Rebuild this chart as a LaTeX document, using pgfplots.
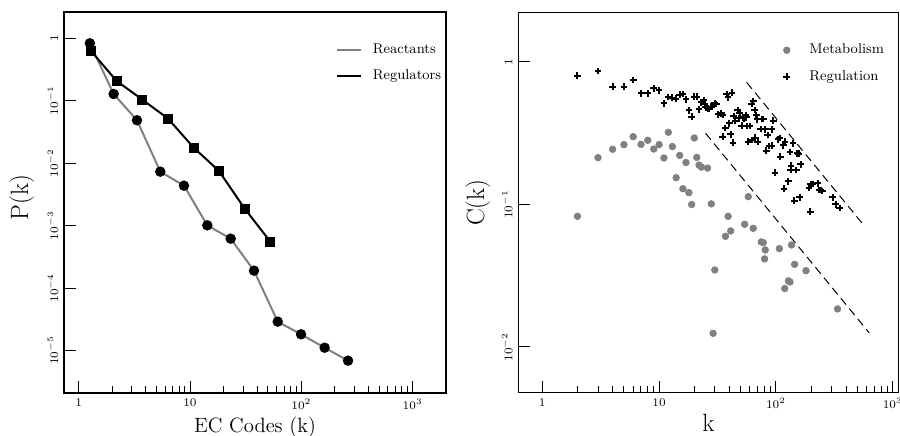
\documentclass[border=0pt]{standalone}
\usepackage{pgfplots}
\pgfplotsset{compat=1.18}
\definecolor{mygray}{RGB}{128,128,128}

\pgfplotsset{
  panel/.style={
    scale only axis,
    axis line style={line width=0.9pt},
    tick style={black, line width=0.6pt},
    tick align=inside,
    xtick pos=bottom, ytick pos=left,
    major tick length=7pt, minor tick length=4pt,
    ticklabel style={font=\fontsize{7}{8}\selectfont},
    yticklabel style={rotate=90, anchor=south},
    ylabel style={font=\fontsize{15}{17}\selectfont},
    xtick={1,10,100,1000},
    xticklabels={$1$,$10$,$10^2$,$10^3$},
    legend cell align=left,
  },
}

\begin{document}
\begin{tikzpicture}

% left: degree distribution
\begin{loglogaxis}[
  panel,
  at={(38.4pt,25.8pt)}, anchor=south west,
  width=229.2pt, height=228.6pt,
  xmin=0.738, xmax=1995, ymin=2.09e-6, ymax=2.63,
  ytick={1,0.1,0.01,0.001,0.0001,0.00001},
  yticklabels={$1$,$10^{-1}$,$10^{-2}$,$10^{-3}$,$10^{-4}$,$10^{-5}$},
  xlabel={EC Codes (k)}, ylabel={P(k)},
  xlabel style={font=\fontsize{12.4}{14}\selectfont, yshift=2pt},
  ylabel style={xshift=3pt, yshift=1pt},
  legend style={draw=none, fill=none, at={(rel axis cs:1.01,0.935)}, anchor=north east,
    font=\fontsize{8.5}{10}\selectfont, row sep=4.5pt},
  legend image code/.code={\draw[#1] (0pt,0pt) -- (14.4pt,0pt); \path (19pt,0pt);},
]
\addlegendimage{mygray, line width=1.2pt}
\addlegendentry{Reactants}
\addlegendimage{black, line width=1.2pt}
\addlegendentry{Regulators}

\addplot[forget plot, mygray, line width=1.2pt, mark=*, mark size=2.5pt,
  mark options={fill=black, draw=black}] coordinates {
  (1.26,0.83) (2.06,0.128) (3.34,0.0486) (5.41,0.00731) (8.83,0.00436)
  (14.3,0.00101) (23.2,0.000618) (37.6,0.000190) (61.4,2.90e-5)
  (99.4,1.82e-5) (162,1.11e-5) (263,6.88e-6)
};
\addplot[forget plot, black, line width=1.2pt, mark=square*, mark size=2.4pt] coordinates {
  (1.29,0.626) (2.19,0.207) (3.73,0.104) (6.34,0.0517) (10.8,0.0177)
  (18.2,0.0075) (31.0,0.00187) (52.7,0.000553)
};
\end{loglogaxis}

% right: clustering coefficient
\begin{loglogaxis}[
  panel,
  at={(311pt,26pt)}, anchor=south west,
  width=228pt, height=228.2pt,
  xmin=0.624, xmax=1117, ymin=0.00478, ymax=2.23,
  ytick={0.01,0.1,1},
  yticklabels={$10^{-2}$,$10^{-1}$,$1$},
  yminorticks=false,
  xlabel={k}, ylabel={C(k)},
  xlabel style={font=\fontsize{15}{17}\selectfont, yshift=4pt},
  legend style={draw=none, fill=none, at={(rel axis cs:0.985,0.935)}, anchor=north east,
    font=\fontsize{8.5}{10}\selectfont, row sep=4.5pt},
  legend image code/.code={\draw[#1] plot coordinates {(7pt,0pt)}; \path (18pt,0pt);},
]
\addplot[only marks, mark=*, mark size=2pt, mygray, mark options={draw=mygray, fill=mygray}] coordinates {
  (2,0.0826) (3,0.213) (4,0.244) (5,0.263) (6,0.299) (7,0.264) (8,0.282)
  (9,0.245) (10,0.263) (11,0.212) (12,0.321) (13,0.255) (14,0.154)
  (15,0.221) (16,0.129) (17,0.197) (18,0.121) (19,0.100) (20,0.293)
  (21,0.214) (22,0.189) (23,0.183) (26,0.180) (28,0.101) (29,0.01247)
  (30,0.0347) (37,0.0598) (39,0.0826) (41,0.0652) (54,0.0726) (58,0.1135)
  (64,0.068) (75,0.0546) (78,0.054) (81,0.048) (80,0.0415) (107,0.049)
  (119,0.0257) (128,0.0291) (132,0.0286) (136,0.052) (144.5,0.038)
  (181,0.0343) (337,0.0185)
};
\addlegendentry{Metabolism}
\addplot[only marks, mark=+, mark size=2pt, black, line width=1.2pt] coordinates {
  (2,0.802) (3,0.865) (4,0.671) (5,0.671) (6,0.748) (7,0.603) (8,0.603)
  (9,0.653) (10,0.633) (11,0.513) (12,0.568) (13,0.562) (14,0.553)
  (15,0.590) (16,0.596) (17,0.547) (18,0.458) (19,0.413) (20,0.571)
  (21,0.571) (22,0.465) (23,0.521) (24,0.541) (24.5,0.505) (25,0.481)
  (26,0.473) (27,0.468) (28,0.486) (29,0.499) (30,0.513) (31,0.507)
  (32,0.429) (34,0.436) (35,0.425) (35,0.299) (37,0.344) (38,0.593)
  (39,0.565) (40,0.371) (41,0.311) (42,0.609) (43,0.272) (43.5,0.418)
  (45,0.388) (47,0.461) (48,0.403) (49,0.439) (51,0.357) (52,0.409)
  (53,0.403) (55,0.425) (56,0.409) (57,0.356) (58,0.276) (60,0.356)
  (62,0.507) (63,0.284) (64,0.532) (66,0.461) (66.5,0.294) (68,0.425)
  (69,0.396) (70,0.276) (74,0.339) (76,0.398) (78,0.398) (81,0.337)
  (83,0.239) (85,0.307) (88,0.257) (92,0.337) (92.5,0.259) (95,0.388)
  (98,0.167) (104,0.287) (107.5,0.293) (109,0.217) (115.6,0.260)
  (117,0.129) (120,0.276) (127.5,0.145) (132,0.234) (134,0.175)
  (135,0.187) (140,0.269) (143.6,0.1064) (150,0.175) (153,0.229)
  (157,0.227) (159.5,0.112) (162.6,0.191) (191.6,0.131) (196.7,0.0891)
  (198,0.1385) (206,0.139) (227.5,0.141) (233.5,0.1265) (241,0.1265)
  (249,0.1245) (305.6,0.112) (324,0.1002) (350.8,0.0944)
};
\addlegendentry{Regulation}
\addplot[forget plot, black, line width=0.6pt, dash pattern=on 5pt off 3pt] coordinates {
  (25,0.316) (629,0.01256)
};
\addplot[forget plot, black, line width=0.6pt, dash pattern=on 5pt off 3pt] coordinates {
  (56.1,0.720) (559,0.0723)
};
\end{loglogaxis}

\pgfresetboundingbox
\path (0,0) rectangle (540pt,261.6pt);
\end{tikzpicture}
\end{document}
